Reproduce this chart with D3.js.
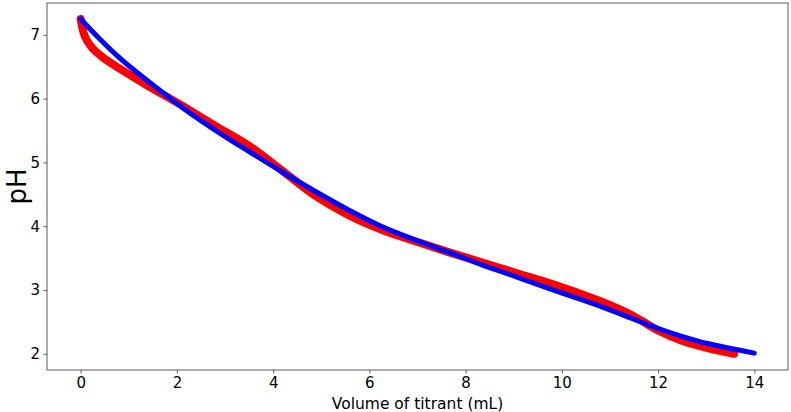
<!DOCTYPE html>
<html>
<head>
<meta charset="utf-8">
<script src="https://cdn.jsdelivr.net/npm/d3@7"></script>
<style>
  html, body { margin: 0; padding: 0; background: #fff; }
  svg text { font-family: "DejaVu Sans", sans-serif; fill: #000; }
</style>
</head>
<body>
<svg id="chart" width="791" height="412"></svg>
<script>
// measured titration (red)
const measuredVolume = [0, 0.05, 0.13, 0.26, 0.44, 0.69, 1.07, 1.42, 1.77, 2.11, 2.81, 3.5, 4.19, 4.89, 5.58, 6.27, 6.97, 7.66, 8.35, 9.04, 9.74, 10.78, 11.47, 11.99, 12.51, 13.03, 13.58];
const measuredPH = [7.25, 7.06, 6.91, 6.78, 6.66, 6.53, 6.35, 6.19, 6.04, 5.89, 5.57, 5.26, 4.87, 4.47, 4.17, 3.94, 3.76, 3.59, 3.43, 3.27, 3.11, 2.83, 2.60, 2.37, 2.20, 2.09, 2.0];

// model fit (blue)
const fitVolume = [0, 0.34, 0.75, 1.14, 1.63, 2.15, 2.81, 3.5, 4.19, 4.89, 5.58, 6.27, 6.97, 7.66, 8.35, 9.04, 9.74, 10.78, 11.47, 11.99, 12.51, 13.03, 14.0];
const fitPH = [7.25, 6.98, 6.68, 6.43, 6.14, 5.84, 5.50, 5.17, 4.85, 4.54, 4.25, 3.99, 3.78, 3.59, 3.39, 3.21, 3.02, 2.75, 2.55, 2.40, 2.27, 2.16, 2.01];

const xTicks = [0, 2, 4, 6, 8, 10, 12, 14];
const yTicks = [2, 3, 4, 5, 6, 7];

const svg = d3.select("#chart");
const plot = { left: 47, right: 788, top: 3, bottom: 370 };

const x = d3.scaleLinear().domain([-0.7, 14.7]).range([plot.left, plot.right]);
const y = d3.scaleLinear().domain([1.745, 7.5]).range([plot.bottom, plot.top]);

const line = d3.line()
  .x(d => x(d[0]))
  .y(d => y(d[1]))
  .curve(d3.curveCatmullRom.alpha(0.5));

const red = measuredVolume.map((v, i) => [v, measuredPH[i]]);
const blue = fitVolume.map((v, i) => [v, fitPH[i]]);

svg.append("path")
  .attr("d", line(red))
  .attr("fill", "none")
  .attr("stroke", "#ff0000")
  .attr("stroke-width", 8)
  .attr("stroke-linecap", "round")
  .attr("stroke-linejoin", "round");

svg.append("path")
  .attr("d", line(blue))
  .attr("fill", "none")
  .attr("stroke", "#0000ff")
  .attr("stroke-width", 5)
  .attr("stroke-linecap", "round")
  .attr("stroke-linejoin", "round");

// axes
const xAxis = svg.append("g")
  .attr("transform", `translate(0,${plot.bottom})`)
  .call(d3.axisBottom(x).tickValues(xTicks).tickSize(3.5).tickPadding(3.5).tickFormat(d3.format("d")));
const yAxis = svg.append("g")
  .attr("transform", `translate(${plot.left},0)`)
  .call(d3.axisLeft(y).tickValues(yTicks).tickSize(3.5).tickPadding(3.5).tickFormat(d3.format("d")));

[xAxis, yAxis].forEach(g => {
  g.select(".domain").remove();
  g.selectAll(".tick line").attr("stroke", "#333").attr("stroke-width", 0.8);
  g.selectAll(".tick text").attr("font-size", 15).attr("font-family", "DejaVu Sans").attr("fill", "#000");
});

svg.append("rect")
  .attr("x", plot.left).attr("y", plot.top)
  .attr("width", plot.right - plot.left).attr("height", plot.bottom - plot.top)
  .attr("fill", "none")
  .attr("stroke", "#333")
  .attr("stroke-width", 0.8);

svg.append("text")
  .attr("x", (plot.left + plot.right) / 2)
  .attr("y", 409)
  .attr("text-anchor", "middle")
  .attr("font-size", 15.5)
  .text("Volume of titrant (mL)");

svg.append("text")
  .attr("transform", `translate(26,${(plot.top + plot.bottom) / 2}) rotate(-90)`)
  .attr("text-anchor", "middle")
  .attr("font-size", 26)
  .text("pH");
</script>
</body>
</html>
